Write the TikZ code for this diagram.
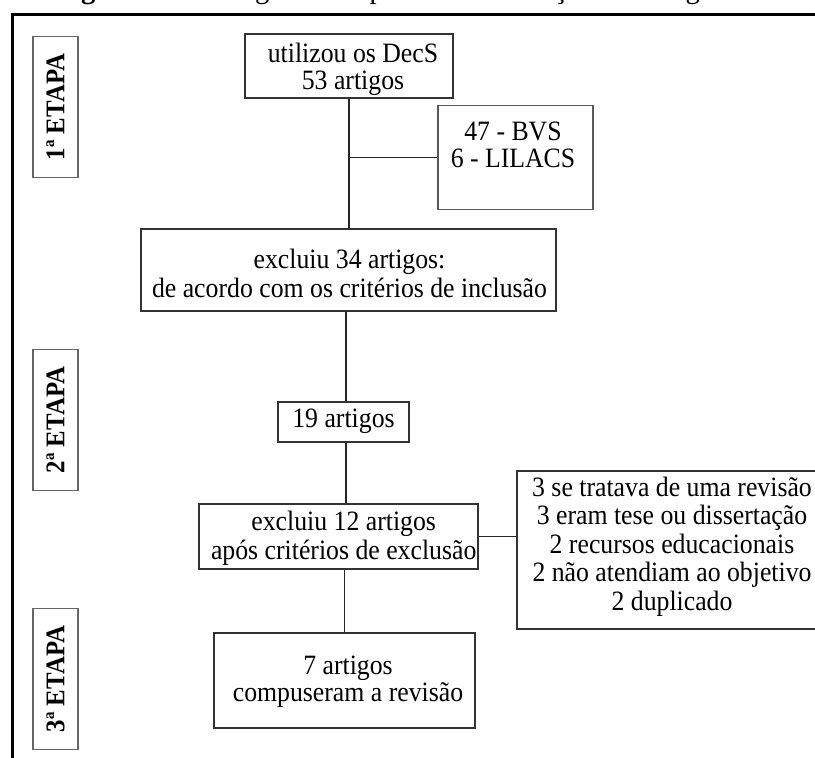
\documentclass[tikz,border=0pt]{standalone}
\usepackage{fontspec}
\setmainfont{Liberation Serif}[FakeStretch=0.92]
\newfontfamily\titlefont{Liberation Serif}
\begin{document}
\begin{tikzpicture}[x=1pt,y=-1pt,
  box/.style={draw=black!80, line width=1.4pt, inner sep=0pt, fill=white},
  lightbox/.style={box, draw=black!65},
  txt/.style={font=\fontsize{28}{27}\selectfont, align=center, inner sep=0pt},
  stage/.style={draw=black!60, line width=1.7pt, inner sep=0pt, rotate=90,
    minimum width=141pt, minimum height=45pt,
    font=\bfseries\fontsize{27}{27}\selectfont},
  link/.style={draw=black!85, line width=1.4pt},
  frame/.style={draw=black, line width=3pt}]
\useasboundingbox (0,0) rectangle (815,758);
\clip (0,0) rectangle (815,758);
\fill[white] (0,0) rectangle (815,758);
% cut-off caption
\node[anchor=base west, inner sep=0pt, font=\titlefont\fontsize{28.6}{30}\selectfont] (title) at (55.4,-1.5)
  {\textbf{Figura 1 –} Fluxograma do percurso da seleção dos artigos};
% outer frame
\draw[frame] (12,14) rectangle (840,790);
% stage labels
\node[stage] (s1) at (55.5,107) {1ª ETAPA};
\node[stage] (s2) at (55.5,420) {2ª ETAPA};
\node[stage] (s3) at (55.5,679) {3ª ETAPA};
% boxes
\node[box, minimum width=208pt, minimum height=64pt] (A) at (349,66) {};
\node[lightbox, minimum width=155pt, minimum height=104pt] (B) at (515.5,157.5) {};
\node[box, minimum width=415pt, minimum height=82pt] (C) at (348.5,270) {};
\node[box, txt, minimum width=131pt, minimum height=40pt] (N19) at (343.5,422) {\strut 19 artigos};
\node[box, minimum width=279pt, minimum height=65pt] (D) at (338.5,536.5) {};
\node[box, minimum width=313pt, minimum height=158pt] (E) at (673.5,550) {};
\node[box, minimum width=261pt, minimum height=95pt] (F) at (344.5,680.5) {};
% texts
\node[txt] (At) at (353,70.1) {\strut utilizou os DecS\\\strut 53 artigos};
\node[txt] (Bt) at (513,148.1) {\strut 47 - BVS\\\strut 6 - LILACS};
\node[txt] (Ct) at (349.5,277.1) {\strut excluiu 34 artigos:\\\strut de acordo com os critérios de inclusão};
\node[txt] (Dt) at (343.7,539.1) {\strut excluiu 12 artigos\\\strut após critérios de exclusão};
\node[txt] (Et) at (672,547.6) {\strut 3 se tratava de uma revisão\\\strut 3 eram tese ou dissertação\\\strut 2 recursos educacionais\\\strut 2 não atendiam ao objetivo\\\strut 2 duplicado};
\node[txt] (Ft) at (348,682.1) {\strut 7 artigos\\\strut compuseram a revisão};
% connectors
\draw[link] (A.south) -- (A.south |- C.north);
\coordinate (j1) at (A.south |- B.west);
\draw[link] (j1) -- (B.west);
\draw[link] ([xshift=2.5pt]N19.north) -- ([xshift=2.5pt]N19.north |- C.south);
\draw[link] ([xshift=2.5pt]N19.south) -- ([xshift=2.5pt]N19.south |- D.north);
\draw[link] (D.east) -- (D.east -| E.west);
\draw[link] (F.north) -- (F.north |- D.south);
\end{tikzpicture}
\end{document}
